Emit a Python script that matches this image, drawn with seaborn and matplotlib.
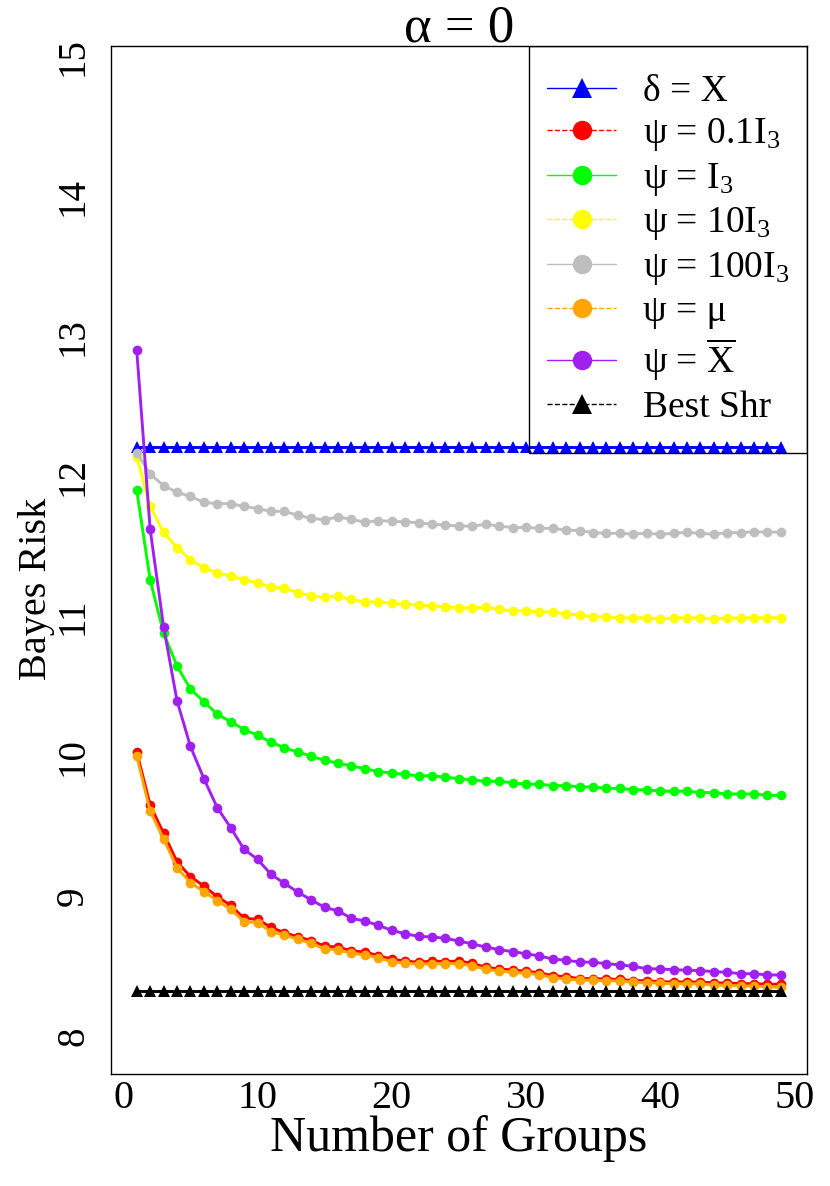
import matplotlib
matplotlib.use('Agg')
import matplotlib.pyplot as plt
from matplotlib.lines import Line2D
from matplotlib.patches import Rectangle
import seaborn as sns
import numpy as np
import pandas as pd

# --- data (x = number of groups, 1..49) ---
groups = list(range(1, 50))

risk_delta_x = [12.21] * 49
risk_best_shr = [8.324] * 49

risk_psi_01 = [10.03, 9.651, 9.449, 9.246, 9.139, 9.072, 8.996, 8.934, 8.841, 8.834,
               8.777, 8.738, 8.710, 8.681, 8.643, 8.634, 8.610, 8.600, 8.575, 8.549,
               8.536, 8.527, 8.536, 8.531, 8.536, 8.520, 8.491, 8.479, 8.472, 8.462,
               8.452, 8.431, 8.424, 8.410, 8.410, 8.407, 8.405, 8.395, 8.395, 8.388,
               8.386, 8.386, 8.386, 8.379, 8.379, 8.374, 8.374, 8.370, 8.370]
risk_psi_1 = [11.90, 11.26, 10.88, 10.645, 10.48, 10.39, 10.30, 10.247, 10.19, 10.15,
              10.10, 10.06, 10.03, 10.00, 9.97, 9.95, 9.93, 9.91, 9.89, 9.88,
              9.87, 9.86, 9.86, 9.85, 9.84, 9.83, 9.82, 9.82, 9.81, 9.80,
              9.80, 9.79, 9.79, 9.78, 9.78, 9.77, 9.77, 9.76, 9.76, 9.75,
              9.75, 9.75, 9.74, 9.74, 9.73, 9.73, 9.73, 9.72, 9.72]
risk_psi_10 = [12.14, 11.786, 11.60, 11.49, 11.404, 11.347, 11.311, 11.287, 11.262, 11.24,
               11.207, 11.202, 11.169, 11.145, 11.136, 11.145, 11.12, 11.10, 11.104, 11.092,
               11.087, 11.08, 11.073, 11.068, 11.061, 11.061, 11.063, 11.049, 11.039, 11.039,
               11.032, 11.032, 11.015, 11.01, 10.996, 10.996, 10.989, 10.989, 10.989, 10.98,
               10.989, 10.99, 10.989, 10.98, 10.989, 10.989, 10.99, 10.99, 10.989]
risk_psi_100 = [12.17, 12.017, 11.934, 11.886, 11.857, 11.814, 11.805, 11.805, 11.786, 11.77,
                11.75, 11.75, 11.722, 11.70, 11.69, 11.71, 11.693, 11.672, 11.684, 11.679,
                11.674, 11.669, 11.657, 11.652, 11.645, 11.645, 11.657, 11.645, 11.633, 11.636,
                11.628, 11.628, 11.617, 11.612, 11.598, 11.593, 11.593, 11.588, 11.593, 11.586,
                11.593, 11.60, 11.593, 11.586, 11.598, 11.598, 11.603, 11.603, 11.60]
risk_psi_mu = [10.00, 9.608, 9.408, 9.203, 9.096, 9.032, 8.967, 8.906, 8.817, 8.810,
               8.746, 8.722, 8.691, 8.663, 8.622, 8.617, 8.590, 8.580, 8.558, 8.531,
               8.520, 8.513, 8.517, 8.517, 8.517, 8.502, 8.477, 8.465, 8.455, 8.448,
               8.438, 8.417, 8.407, 8.398, 8.398, 8.395, 8.393, 8.384, 8.381, 8.377,
               8.374, 8.374, 8.372, 8.365, 8.362, 8.357, 8.357, 8.352, 8.348]
risk_psi_xbar = [12.90, 11.622, 10.926, 10.397, 10.07, 9.84, 9.632, 9.489, 9.334, 9.263,
                 9.156, 9.091, 9.029, 8.972, 8.920, 8.894, 8.841, 8.822, 8.791, 8.755,
                 8.731, 8.712, 8.708, 8.698, 8.679, 8.658, 8.636, 8.617, 8.603, 8.588,
                 8.572, 8.550, 8.541, 8.529, 8.527, 8.517, 8.508, 8.498, 8.481, 8.479,
                 8.474, 8.470, 8.467, 8.460, 8.455, 8.445, 8.445, 8.436, 8.436]

labels = [r"δ = X", r"ψ = 0.1I$_3$", r"ψ = I$_3$", r"ψ = 10I$_3$", r"ψ = 100I$_3$",
          r"ψ = μ", r"ψ = $\overline{\mathrm{X}}$", "Best Shr"]
colors = ["#0000FF", "#FF0000", "#00FF00", "#FFFF00", "#BEBEBE", "#FFA500", "#A020F0", "#000000"]
markers = ["^", "o", "o", "o", "o", "o", "o", "^"]
legend_ls = ["-", "--", "-", "--", "-", "--", "-", "--"]
series = [risk_delta_x, risk_psi_01, risk_psi_1, risk_psi_10, risk_psi_100,
          risk_psi_mu, risk_psi_xbar, risk_best_shr]

sns.set_style("white", {"text.color": "black", "axes.labelcolor": "black",
                        "xtick.color": "black", "ytick.color": "black",
                        "axes.edgecolor": "black"})
plt.rcParams['font.family'] = ['Liberation Serif', 'DejaVu Serif']
plt.rcParams['mathtext.fontset'] = 'custom'
plt.rcParams['mathtext.rm'] = 'Liberation Serif'
plt.rcParams['mathtext.it'] = 'Liberation Serif:italic'
plt.rcParams['mathtext.default'] = 'rm'

fig = plt.figure(figsize=(8.3, 11.86), dpi=100)
ax = fig.add_axes([0.1337, 0.0944, 0.8382, 0.8668])

for lab, col, mk, vals in zip(labels, colors, markers, series):
    df = pd.DataFrame({"groups": groups, "risk": vals})
    sns.lineplot(data=df, x="groups", y="risk", ax=ax, color=col, marker=mk,
                 markersize=8 if mk == "^" else 7, markeredgewidth=0,
                 linewidth=2.1, legend=False)

ax.set_xlim(-0.92, 50.92)
ax.set_ylim(7.728, 15.076)
ax.set_xticks([0, 10, 20, 30, 40, 50])
ax.set_yticks([8, 9, 10, 11, 12, 13, 14, 15])
ax.tick_params(axis='x', length=8.6, width=1, direction='out', labelsize=29, pad=-4, color='black')
ax.tick_params(axis='y', length=8.6, width=1, direction='out', labelsize=28, pad=5, color='black')
for lbl in ax.get_yticklabels():
    lbl.set_rotation(90)
    lbl.set_va('center')

for sp in ax.spines.values():
    sp.set_color('black')
    sp.set_linewidth(1.0)

ax.set_xlabel("Number of Groups", fontsize=36, labelpad=-2)
ax.set_ylabel("Bayes Risk", fontsize=29)
ax.yaxis.set_label_coords(-0.08, 0.472)
ax.set_title("α = 0", fontsize=38, pad=3)

# legend box (transparent, like base R), drawn separately from the entries
box_x0, box_y0 = 0.6008, 0.6041
ax.add_patch(Rectangle((box_x0, box_y0), 1 - box_x0, 1 - box_y0, transform=ax.transAxes,
                       fill=False, edgecolor='black', linewidth=1.0, zorder=5))

handles = [Line2D([0], [0], color=c, linestyle=ls, linewidth=1.0, marker=m,
                  markersize=15 if m == "^" else 14, markeredgewidth=0)
           for c, ls, m in zip(colors, legend_ls, markers)]
leg = ax.legend(handles, labels, loc='center left',
                bbox_to_anchor=(box_x0, (1 + box_y0) / 2), fontsize=27, frameon=False,
                borderaxespad=0, handlelength=1.85, handletextpad=0.7, borderpad=0.48,
                labelspacing=0.2)

fig.savefig("out.png", dpi=100)
